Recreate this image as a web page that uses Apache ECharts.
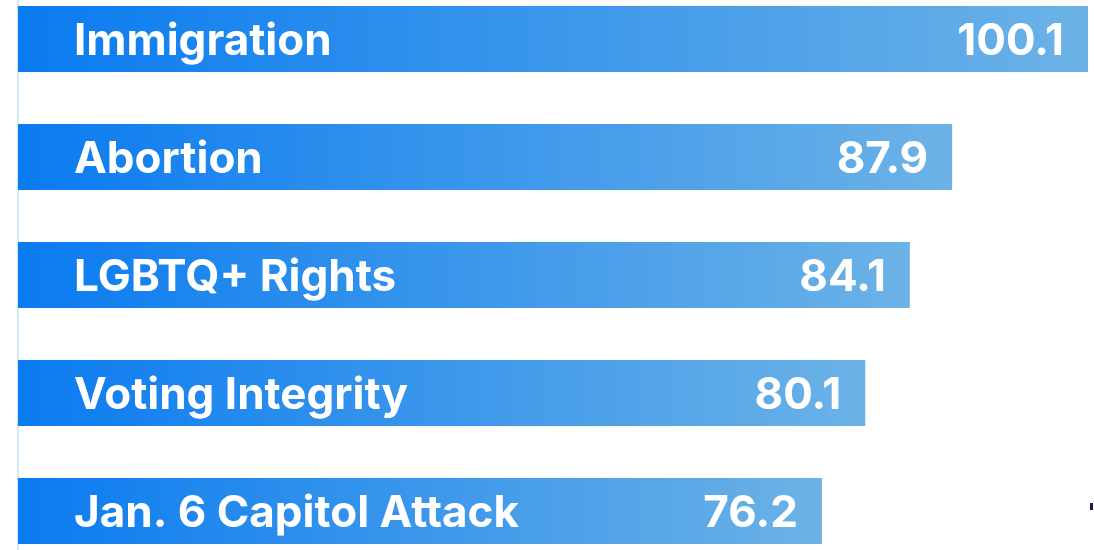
<!DOCTYPE html>
<html>
<head>
<meta charset="utf-8">
<style>
  html, body { margin: 0; padding: 0; background: #ffffff; }
  #chart { width: 1094px; height: 550px; }
</style>
<script src="https://cdn.jsdelivr.net/npm/echarts@6/dist/echarts.min.js"></script>
</head>
<body>
<div id="chart"></div>
<script>
// Issue names, top to bottom
const issues = ['Immigration', 'Abortion', 'LGBTQ+ Rights', 'Voting Integrity', 'Jan. 6 Capitol Attack'];
// Index score for each issue
const scores = [100.1, 87.9, 84.1, 80.1, 76.2];

const chart = echarts.init(document.getElementById('chart'));

const barFill = new echarts.graphic.LinearGradient(0, 0, 1, 0, [
  { offset: 0, color: '#0a7bf0' },
  { offset: 1, color: '#6cb2e6' }
]);

const labelFont = {
  color: '#ffffff',
  fontFamily: 'Inter',
  fontWeight: 'bold',
  fontSize: 44,
  offset: [0, 3]
};

chart.setOption({
  animation: false,
  grid: {
    left: 18, right: 6, top: -20, height: 590,
    containLabel: false,
    outerBoundsMode: 'none'
  },
  xAxis: {
    type: 'value',
    min: 4,
    max: 100.1,
    show: false
  },
  yAxis: {
    type: 'category',
    data: issues,
    inverse: true,
    axisLine: { show: true, lineStyle: { color: '#d2e9f7', width: 2 } },
    axisTick: { show: false },
    axisLabel: { show: false },
    splitLine: { show: false }
  },
  series: [
    {
      type: 'bar',
      data: scores,
      barWidth: 66,
      itemStyle: { color: barFill },
      label: Object.assign({
        show: true,
        position: 'insideRight',
        distance: 24,
        formatter: p => p.value.toFixed(1)
      }, labelFont)
    },
    {
      type: 'bar',
      data: scores,
      barWidth: 66,
      barGap: '-100%',
      itemStyle: { color: 'rgba(0,0,0,0)' },
      silent: true,
      label: Object.assign({
        show: true,
        position: 'insideLeft',
        distance: 56,
        formatter: p => p.name
      }, labelFont)
    }
  ],
  graphic: [
    {
      type: 'rect',
      shape: { x: 1090, y: 503, width: 3, height: 7 },
      style: { fill: '#1c1b4a' }
    }
  ]
});
</script>
</body>
</html>
